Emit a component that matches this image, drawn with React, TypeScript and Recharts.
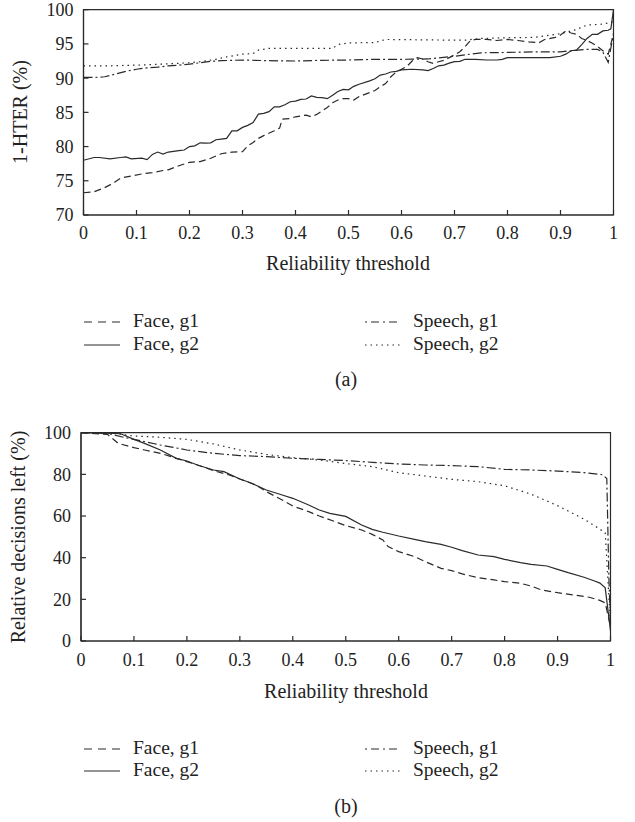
import React from 'react';
import { LineChart, Line, XAxis, YAxis, ReferenceArea } from 'recharts';

// shared axis ticks
const xTicks = [0, 0.1, 0.2, 0.3, 0.4, 0.5, 0.6, 0.7, 0.8, 0.9, 1];
const hterTicks = [70, 75, 80, 85, 90, 95, 100];
const leftTicks = [0, 20, 40, 60, 80, 100];
const seriesNames = ['Face, g1', 'Face, g2', 'Speech, g1', 'Speech, g2'];

// panel (a): 1-HTER (%) vs reliability threshold, [threshold, value]
const aFaceG1 = [
  [0, 73.25], [0.02, 73.4], [0.04, 74.0], [0.05, 74.4], [0.06, 74.85], [0.07, 75.4], [0.09, 75.7],
  [0.11, 76.0], [0.13, 76.2], [0.15, 76.5], [0.16, 76.6], [0.18, 77.2], [0.2, 77.7], [0.22, 77.8],
  [0.24, 78.3], [0.26, 78.95], [0.28, 79.2], [0.3, 79.25], [0.31, 80.1], [0.32, 80.6], [0.33, 81.2],
  [0.34, 81.6], [0.36, 82.3], [0.37, 82.7], [0.375, 84.0], [0.39, 84.1], [0.4, 84.35], [0.42, 84.6],
  [0.43, 84.35], [0.44, 84.7], [0.45, 85.2], [0.46, 85.7], [0.47, 86.4], [0.48, 86.8], [0.49, 87.0],
  [0.5, 87.0], [0.51, 86.8], [0.52, 87.3], [0.54, 87.9], [0.55, 88.2], [0.56, 88.75], [0.57, 89.2],
  [0.58, 90.2], [0.59, 90.9], [0.6, 91.3], [0.61, 91.7], [0.62, 92.5], [0.63, 93.0], [0.64, 92.8],
  [0.65, 92.4], [0.66, 92.15], [0.67, 92.4], [0.68, 92.6], [0.69, 93.0], [0.7, 93.4], [0.71, 93.85],
  [0.72, 94.6], [0.73, 95.5], [0.74, 95.65], [0.76, 95.65], [0.78, 95.5], [0.8, 95.65], [0.82, 95.5],
  [0.84, 95.3], [0.86, 95.2], [0.87, 95.65], [0.89, 95.95], [0.9, 96.3], [0.91, 96.9], [0.92, 96.6],
  [0.93, 96.4], [0.94, 95.8], [0.95, 95.5], [0.96, 95.1], [0.97, 94.6], [0.98, 94.0], [0.99, 93.5],
  [1, 96.5],
];
const aFaceG2 = [
  [0, 78.0], [0.02, 78.4], [0.03, 78.4], [0.05, 78.2], [0.07, 78.4], [0.08, 78.5], [0.09, 78.2],
  [0.11, 78.3], [0.12, 78.1], [0.13, 78.85], [0.14, 79.2], [0.15, 78.9], [0.16, 79.2], [0.18, 79.4],
  [0.19, 79.5], [0.2, 80.0], [0.21, 80.1], [0.22, 80.55], [0.23, 80.5], [0.24, 80.55], [0.25, 81.0],
  [0.26, 81.1], [0.27, 81.2], [0.28, 82.3], [0.29, 82.3], [0.3, 82.8], [0.31, 83.1], [0.32, 83.5],
  [0.33, 84.75], [0.34, 84.85], [0.35, 85.1], [0.36, 85.8], [0.37, 85.8], [0.38, 86.1], [0.39, 86.55],
  [0.4, 86.65], [0.41, 86.9], [0.42, 86.95], [0.43, 87.4], [0.44, 87.2], [0.45, 87.15], [0.46, 87.0],
  [0.47, 87.5], [0.48, 88.05], [0.49, 88.35], [0.5, 88.3], [0.51, 88.8], [0.52, 89.1], [0.54, 89.6],
  [0.55, 89.9], [0.56, 90.45], [0.57, 90.6], [0.58, 90.9], [0.59, 91.0], [0.6, 91.2], [0.62, 91.3],
  [0.64, 91.2], [0.65, 91.1], [0.66, 91.4], [0.67, 91.8], [0.68, 91.9], [0.69, 92.2], [0.7, 92.4],
  [0.71, 92.45], [0.72, 92.75], [0.74, 92.75], [0.76, 92.65], [0.78, 92.65], [0.79, 92.75], [0.8, 93.0],
  [0.82, 93.0], [0.84, 93.0], [0.86, 93.0], [0.88, 93.0], [0.9, 93.2], [0.91, 93.5], [0.92, 94.0],
  [0.93, 94.1], [0.94, 94.9], [0.95, 95.8], [0.96, 96.4], [0.97, 96.4], [0.98, 96.9], [0.99, 97.0],
  [0.995, 97.2], [1, 100],
];
const aSpeechG1 = [
  [0, 90.1], [0.02, 90.1], [0.04, 90.2], [0.06, 90.6], [0.08, 91.0], [0.1, 91.3], [0.12, 91.5],
  [0.14, 91.6], [0.16, 91.8], [0.18, 91.9], [0.2, 92.05], [0.22, 92.25], [0.24, 92.45], [0.26, 92.55],
  [0.3, 92.65], [0.35, 92.55], [0.4, 92.5], [0.45, 92.6], [0.5, 92.65], [0.55, 92.75], [0.6, 92.75],
  [0.65, 92.8], [0.7, 93.2], [0.75, 93.7], [0.8, 93.75], [0.85, 93.85], [0.9, 93.85], [0.92, 94.0],
  [0.95, 94.2], [0.97, 94.2], [0.98, 93.8], [0.99, 92.3], [1, 96.5],
];
const aSpeechG2 = [
  [0, 91.8], [0.05, 91.8], [0.1, 91.9], [0.15, 92.05], [0.2, 92.25], [0.22, 92.4], [0.25, 92.75],
  [0.27, 93.1], [0.3, 93.5], [0.32, 93.6], [0.33, 94.1], [0.35, 94.35], [0.47, 94.35], [0.48, 94.9],
  [0.5, 95.15], [0.55, 95.2], [0.57, 95.65], [0.7, 95.55], [0.72, 95.55], [0.75, 95.8], [0.8, 95.9],
  [0.85, 95.95], [0.9, 96.5], [0.93, 97.1], [0.95, 97.75], [0.98, 97.9], [1, 98.25],
];

// panel (b): relative decisions left (%)
const bFaceG1 = [
  [0, 100], [0.05, 99.2], [0.07, 94.9], [0.1, 92.8], [0.12, 91.7], [0.15, 90.1], [0.18, 87.7],
  [0.2, 86.1], [0.22, 84.5], [0.25, 81.8], [0.28, 79.7], [0.3, 77.8], [0.33, 74.9], [0.35, 71.7],
  [0.38, 67.7], [0.4, 64.8], [0.43, 62.1], [0.45, 60.0], [0.48, 57.3], [0.5, 55.4], [0.53, 53.3],
  [0.55, 51.2], [0.57, 48.5], [0.58, 45.3], [0.6, 42.9], [0.63, 40.5], [0.65, 38.1], [0.68, 34.9],
  [0.7, 33.8], [0.72, 32.2], [0.75, 30.4], [0.78, 29.3], [0.8, 28.5], [0.83, 27.7], [0.85, 26.4],
  [0.87, 24.5], [0.9, 23.2], [0.93, 22.1], [0.96, 21.0], [0.98, 19.5], [0.99, 18.3], [1, 7],
];
const bFaceG2 = [
  [0, 100], [0.05, 99.8], [0.075, 99.5], [0.1, 96.8], [0.12, 94.9], [0.15, 91.7], [0.18, 87.7],
  [0.2, 86.4], [0.22, 84.5], [0.25, 82.1], [0.27, 81.3], [0.3, 77.8], [0.32, 76.0], [0.35, 72.5],
  [0.38, 70.1], [0.4, 68.5], [0.43, 65.3], [0.45, 62.9], [0.47, 61.3], [0.5, 59.8], [0.53, 55.7],
  [0.55, 53.6], [0.57, 52.2], [0.6, 50.4], [0.63, 48.8], [0.65, 47.7], [0.68, 46.4], [0.7, 45.0],
  [0.72, 43.4], [0.75, 41.3], [0.78, 40.5], [0.8, 39.2], [0.83, 37.6], [0.85, 36.8], [0.88, 36.0],
  [0.9, 34.4], [0.92, 32.8], [0.95, 30.6], [0.97, 28.8], [0.98, 27.8], [0.99, 25.5], [1, 5],
];
const bSpeechG1 = [
  [0, 100], [0.05, 99.7], [0.08, 97.8], [0.1, 96.8], [0.15, 94.1], [0.2, 91.7], [0.25, 90.1],
  [0.3, 89.0], [0.35, 88.5], [0.4, 87.7], [0.45, 87.2], [0.5, 86.6], [0.55, 85.8], [0.6, 85.0],
  [0.65, 84.5], [0.7, 84.2], [0.75, 83.7], [0.8, 82.4], [0.85, 82.1], [0.9, 81.6], [0.95, 80.8],
  [0.985, 79.8], [0.993, 78], [0.997, 30], [1, 8],
];
const bSpeechG2 = [
  [0, 100], [0.05, 100], [0.1, 98.4], [0.15, 97.8], [0.2, 96.8], [0.25, 94.6], [0.3, 91.7],
  [0.35, 89.6], [0.4, 88.0], [0.45, 86.9], [0.5, 85.2], [0.55, 83.7], [0.6, 80.8], [0.65, 79.2],
  [0.7, 77.6], [0.75, 76.5], [0.8, 74.5], [0.85, 70.5], [0.9, 65.0], [0.95, 58.5], [0.975, 54.5],
  [0.99, 52], [1, 8],
];

const INK = '#2a2a2a';
const FONT = 'Liberation Serif, DejaVu Serif, serif';
const dashes = ['7 4', undefined, '9 3 2 3', '1.5 4'];
const legendDashes = ['8 6', undefined, '2 4 8 4', '1.5 4'];

const toRows = (pts: number[][]) => pts.map(([t, v]) => ({ t, v }));

interface PanelProps {
  top: number;
  height: number;
  margin: { top: number; right: number; bottom: number; left: number };
  series: number[][][];
  domain: [number, number];
  ticks: number[];
  tickMargin: number;
}

function Panel({ top, height, margin, series, domain, ticks, tickMargin }: PanelProps) {
  return (
    <div style={{ position: 'absolute', left: 0, top }}>
      <LineChart width={635} height={height} margin={margin}>
        <ReferenceArea x1={0} x2={1} y1={domain[0]} y2={domain[1]} fill="none" stroke={INK} strokeWidth={1.2} ifOverflow="visible" />
        <XAxis
          type="number"
          dataKey="t"
          domain={[0, 1]}
          ticks={xTicks}
          interval={0}
          height={30}
          tickSize={-5}
          tickMargin={tickMargin}
          axisLine={{ stroke: INK, strokeWidth: 1.2 }}
          tickLine={{ stroke: INK, strokeWidth: 1.2 }}
          tick={{ fill: '#222', fontSize: 18, fontFamily: FONT }}
        />
        <YAxis
          type="number"
          domain={domain}
          ticks={ticks}
          interval={0}
          width={60}
          tickSize={-5}
          tickMargin={15}
          axisLine={{ stroke: INK, strokeWidth: 1.2 }}
          tickLine={{ stroke: INK, strokeWidth: 1.2 }}
          tick={{ fill: '#222', fontSize: 18, fontFamily: FONT }}
        />
        {series.map((pts, i) => (
          <Line
            key={seriesNames[i]}
            name={seriesNames[i]}
            data={toRows(pts)}
            dataKey="v"
            type="linear"
            stroke={INK}
            strokeWidth={1.2}
            strokeDasharray={dashes[i]}
            dot={false}
            activeDot={false}
            isAnimationActive={false}
          />
        ))}
      </LineChart>
    </div>
  );
}

function LegendBlock({ row1, row2 }: { row1: number; row2: number }) {
  const cols = [
    { sample: 84, text: 133 },
    { sample: 365, text: 413 },
  ];
  return (
    <>
      {seriesNames.map((name, i) => {
        const col = cols[Math.floor(i / 2)];
        const y = i % 2 === 0 ? row1 : row2;
        return (
          <React.Fragment key={name}>
            <svg style={{ position: 'absolute', left: col.sample, top: y - 2 }} width={37} height={4}>
              <line x1={0} y1={2} x2={36} y2={2} stroke={INK} strokeWidth={1.2} strokeDasharray={legendDashes[i]} />
            </svg>
            <div style={{ position: 'absolute', left: col.text, top: y, transform: 'translateY(-55%)', fontSize: 19.5, whiteSpace: 'nowrap' }}>
              {name}
            </div>
          </React.Fragment>
        );
      })}
    </>
  );
}

const centered = (x: number, y: number, extra: React.CSSProperties = {}): React.CSSProperties => ({
  position: 'absolute',
  left: x,
  top: y,
  transform: 'translate(-50%, -55%)',
  whiteSpace: 'nowrap',
  fontSize: 20,
  ...extra,
});

export default function App() {
  return (
    <div style={{ position: 'absolute', left: 0, top: 0, width: 635, height: 822, background: '#fff', fontFamily: FONT, color: '#222' }}>
      <Panel
        top={0}
        height={250}
        margin={{ top: 9.7, right: 21.5, bottom: 5, left: 23.5 }}
        series={[aFaceG1, aFaceG2, aSpeechG1, aSpeechG2]}
        domain={[70, 100]}
        ticks={hterTicks}
        tickMargin={16}
      />
      <div style={centered(20, 112, { transform: 'translate(-50%, -50%) rotate(-90deg)' })}>1-HTER (%)</div>
      <div style={centered(348, 265)}>Reliability threshold</div>
      <LegendBlock row1={322} row2={345} />
      <div style={centered(346, 381)}>(a)</div>

      <Panel
        top={420}
        height={260}
        margin={{ top: 12.7, right: 24.5, bottom: 9, left: 21 }}
        series={[bFaceG1, bFaceG2, bSpeechG1, bSpeechG2]}
        domain={[0, 100]}
        ticks={leftTicks}
        tickMargin={17}
      />
      <div style={centered(18, 537, { transform: 'translate(-50%, -50%) rotate(-90deg)' })}>Relative decisions left (%)</div>
      <div style={centered(346, 693)}>Reliability threshold</div>
      <LegendBlock row1={749} row2={771} />
      <div style={centered(346, 808)}>(b)</div>
    </div>
  );
}
